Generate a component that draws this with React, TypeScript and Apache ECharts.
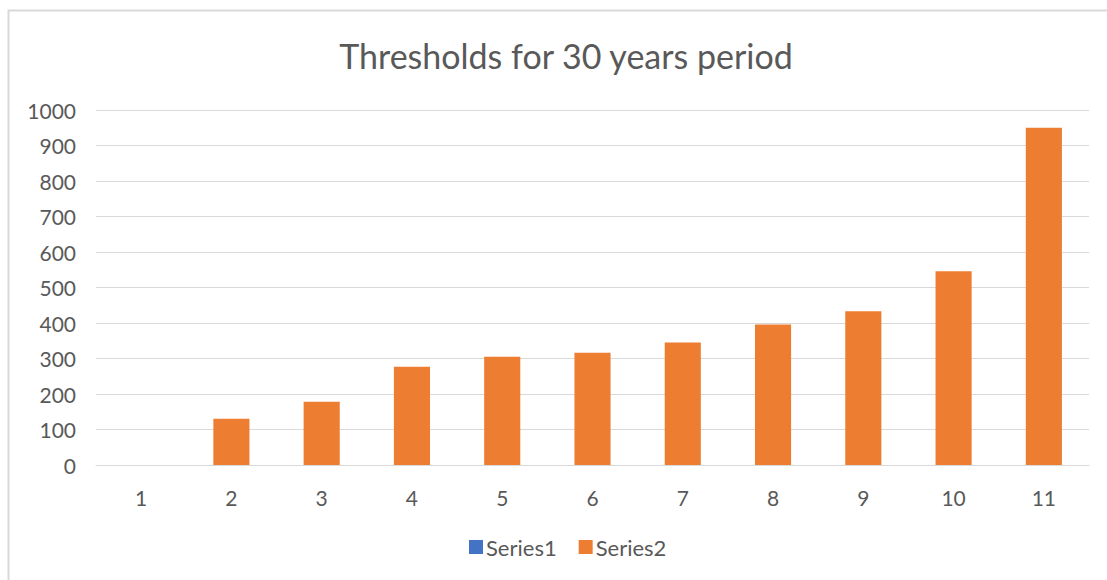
import React, { useEffect, useRef } from "react";
import * as echarts from "echarts";

const categories = ["1", "2", "3", "4", "5", "6", "7", "8", "9", "10", "11"];
const series1Values: (number | null)[] = [null, null, null, null, null, null, null, null, null, null, null];
const series2Values = [0, 130, 178, 277, 305, 316, 345, 396, 433, 546, 950];
const titleText = "Thresholds for 30 years period";

export default function App() {
  const ref = useRef<HTMLDivElement>(null);
  useEffect(() => {
    if (!ref.current) return;
    const chart = echarts.init(ref.current, undefined, { renderer: "svg" });
    const textColor = "#595959";
    const font = "Lato, 'Noto Sans', sans-serif";
    chart.setOption({
      animation: false,
      backgroundColor: "#ffffff",
      title: {
        text: titleText,
        left: 561,
        top: 33,
        textAlign: "center",
        textStyle: { color: textColor, fontSize: 34, fontWeight: "normal", fontFamily: font },
      },
      graphic: [
        {
          type: "rect",
          shape: { x: 8.5, y: 10.5, width: 1120, height: 600 },
          style: { fill: "none", stroke: "#d9d9d9", lineWidth: 2 },
          silent: true,
          z: -10,
        },
      ],
      legend: {
        data: ["Series1", "Series2"],
        left: 469,
        top: 536,
        padding: 0,
        itemWidth: 14,
        itemHeight: 14,
        itemGap: 22,
        icon: "rect",
        textStyle: { color: textColor, fontSize: 22, fontFamily: font, padding: [0, 0, 0, -2] },
      },
      grid: { left: 96, right: 18, top: 110, bottom: 115, containLabel: false },
      xAxis: {
        type: "category",
        data: categories,
        axisLine: { show: true, lineStyle: { color: "#d9d9d9", width: 1 } },
        axisTick: { show: false },
        axisLabel: { color: textColor, fontSize: 21, fontFamily: font, margin: 22 },
      },
      yAxis: {
        type: "value",
        min: 0,
        max: 1000,
        interval: 100,
        axisLine: { show: false },
        axisTick: { show: false },
        splitLine: { lineStyle: { color: "#d9d9d9", width: 1 } },
        axisLabel: {
          color: textColor,
          fontSize: 21,
          fontFamily: font,
          margin: 20,
          formatter: (v: number) => String(v),
        },
      },
      series: [
        {
          name: "Series1",
          type: "bar",
          data: series1Values,
          barWidth: "40%",
          barGap: "-100%",
          itemStyle: { color: "#4472C4" },
        },
        {
          name: "Series2",
          type: "bar",
          data: series2Values,
          barWidth: "40%",
          barGap: "-100%",
          itemStyle: { color: "#ED7D31" },
        },
      ],
    });
    return () => chart.dispose();
  }, []);
  return (
    <div
      ref={ref}
      style={{ position: "fixed", left: 0, top: 0, width: 1107, height: 580 }}
    />
  );
}
